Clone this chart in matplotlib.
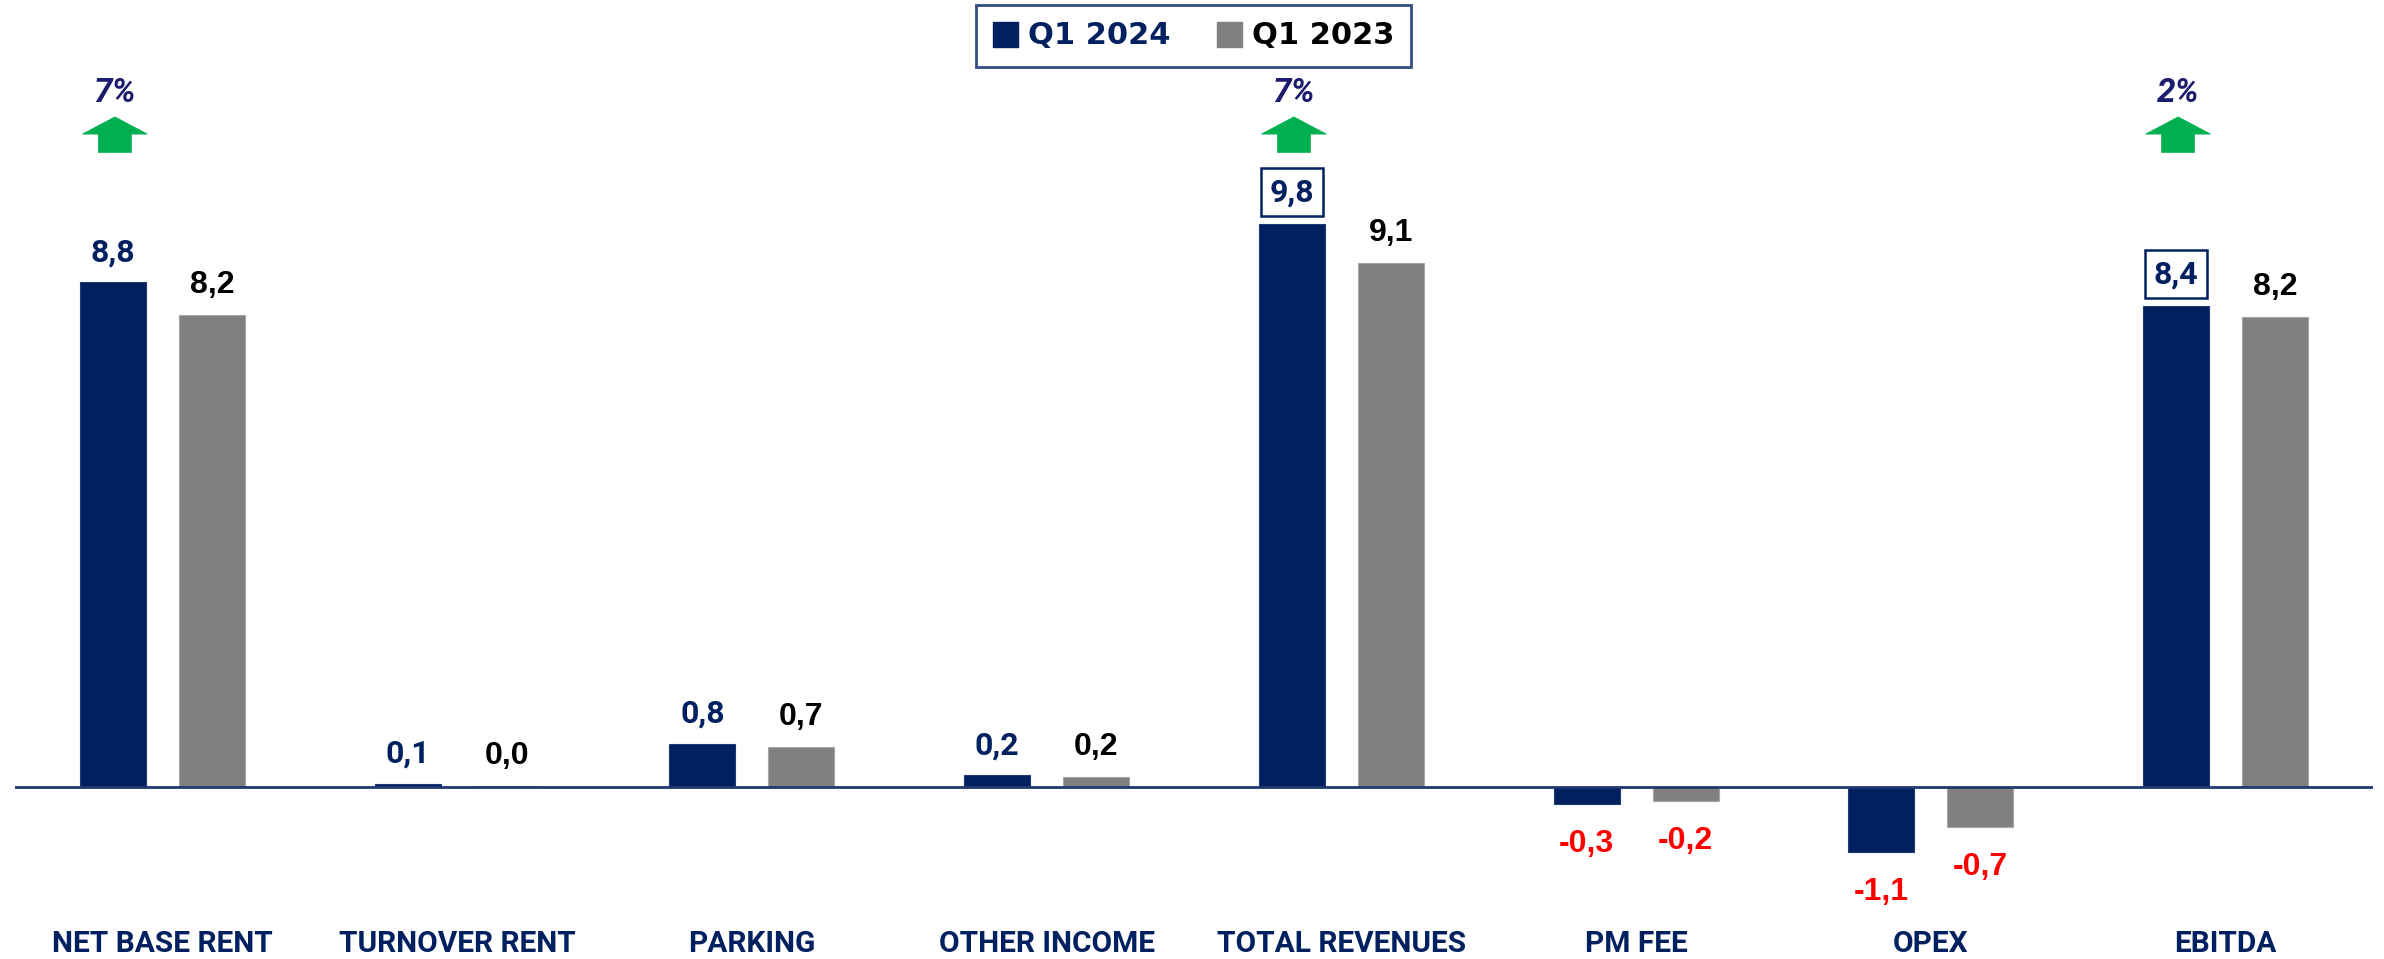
import matplotlib
matplotlib.use("Agg")
import matplotlib.pyplot as plt
from matplotlib.patches import Polygon
from matplotlib.lines import Line2D

# data (EUR m)
categories = ["NET BASE RENT", "TURNOVER RENT", "PARKING", "OTHER INCOME",
              "TOTAL REVENUES", "PM FEE", "OPEX", "EBITDA"]
q1_2024 = [8.8, 0.06, 0.76, 0.21, 9.81, -0.29, -1.13, 8.38]
q1_2023 = [8.23, 0.02, 0.70, 0.18, 9.14, -0.24, -0.70, 8.2]
growth_idx = [0, 4, 7]
growth_txt = ["7%", "7%", "2%"]
boxed_idx = [4, 7]

NAVY = "#002060"
GREY = "#808080"
GREEN = "#00B050"
RED = "#FF0000"
PCT = "#1C1C6E"
GEO = "Roboto"          # stand-in for the geometric deck font
ARIAL = "Liberation Sans"

W, H = 2384, 959
fig = plt.figure(figsize=(W / 100, H / 100), dpi=100)
ax = fig.add_axes([15 / W, 0, 2358 / W, 1])

# pixel -> data scales
px_x = 2358 / 8.0
px_y = 57.4
ax.set_xlim(-0.5, 7.5)
ax.set_ylim(-(H - 787.3) / px_y, 787.3 / px_y)
ax.axis("off")

bw = 66 / px_x
off = 49.5 / px_x
x = list(range(len(categories)))
x1 = [i - off for i in x]
x2 = [i + off for i in x]

ax.bar(x1, q1_2024, bw, color=NAVY, edgecolor="#1F3A70", lw=0.8, zorder=2)
ax.bar(x2, q1_2023, bw, color=GREY, edgecolor="#A6A6A6", lw=0.8, zorder=2)
ax.axhline(0, color="#1F3A70", lw=2.0, zorder=3)

def fmt(v):
    return ("%.1f" % v).replace(".", ",")

for i in x:
    for xs, vals, col, fam in [(x1, q1_2024, NAVY, GEO),
                               (x2, q1_2023, "black", ARIAL)]:
        v = vals[i]
        if v < 0:
            col = RED
            fam = ARIAL
            dy = -40
        else:
            dy = 30
        boxed = (vals is q1_2024) and i in boxed_idx
        bb = None
        if boxed:
            dy = 32
            bb = dict(boxstyle="square,pad=0.28", fc="white", ec=NAVY, lw=1.8)
        ax.annotate(fmt(v), (xs[i], v), xytext=(0, dy * 0.72),
                    textcoords="offset points", ha="center", va="center",
                    fontsize=23, fontweight="bold", color=col, family=fam,
                    bbox=bb, zorder=4)

# growth arrows
aw = 65 / px_x / 2
sw = 33 / px_x / 2
y_tip = 11.68
y_head = 11.38
y_bot = 11.06
for i, t in zip(growth_idx, growth_txt):
    cx = x1[i] + 2 / px_x
    pts = [(cx, y_tip), (cx + aw, y_head), (cx + sw, y_head), (cx + sw, y_bot),
           (cx - sw, y_bot), (cx - sw, y_head), (cx - aw, y_head)]
    ax.add_patch(Polygon(pts, closed=True, fc=GREEN, ec=GREEN, lw=0.5, zorder=4))
    ax.text(cx, 12.09, t, ha="center", va="center", fontsize=24,
            fontweight="bold", fontstyle="italic", color=PCT, family=GEO)

# category labels
for i, c in zip(x, categories):
    ax.text(i, -2.73, c, ha="center", va="center", fontsize=21.5,
            fontweight="bold", color=NAVY, family=GEO)

# legend
handles = [Line2D([], [], marker="s", ls="", color=NAVY, markersize=18),
           Line2D([], [], marker="s", ls="", color=GREY, markersize=18)]
leg = fig.legend(handles, ["Q1 2024", "Q1 2023"], loc="center",
                 bbox_to_anchor=(1193.5 / W, 1 - 36 / H), ncol=2,
                 fancybox=False, frameon=True, edgecolor=NAVY,
                 prop=dict(family="DejaVu Sans", weight="bold", size=22),
                 labelcolor=[NAVY, "black"], handlelength=0.8,
                 handletextpad=0.35, columnspacing=1.5, borderpad=0.55,
                 borderaxespad=0)
leg.get_frame().set_linewidth(2)

fig.savefig("out.png", dpi=100)
